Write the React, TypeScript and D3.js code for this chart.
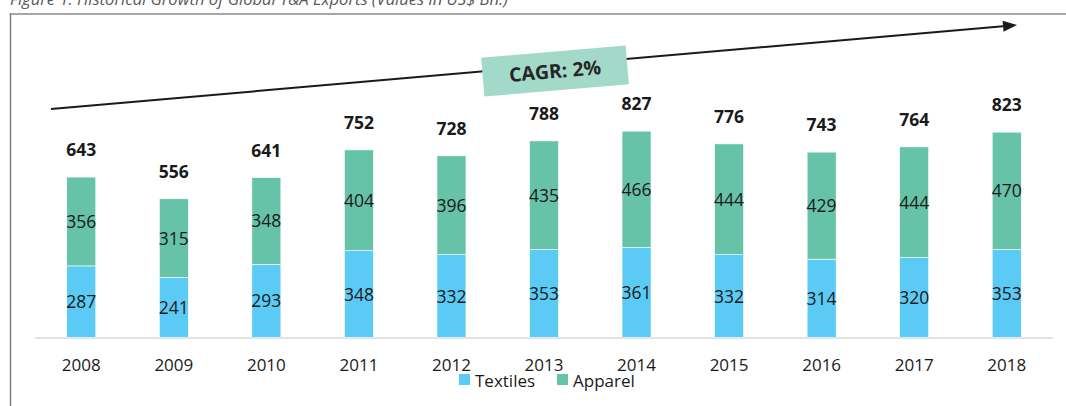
import * as React from "react";
import * as d3 from "d3";

const years = ["2008", "2009", "2010", "2011", "2012", "2013", "2014", "2015", "2016", "2017", "2018"];
const textiles = [287, 241, 293, 348, 332, 353, 361, 332, 314, 320, 353];
const apparel = [356, 315, 348, 404, 396, 435, 466, 444, 429, 444, 470];
const totals = [643, 556, 641, 752, 728, 788, 827, 776, 743, 764, 823];
const seriesNames = ["Textiles", "Apparel"];
const seriesColors = ["#5bcbf5", "#66c3a7"];

const W = 1066;
const H = 406;
const font = "'Open Sans', 'DejaVu Sans', sans-serif";

export default function App() {
  const ref = React.useRef<SVGSVGElement>(null);

  React.useEffect(() => {
    const svg = d3.select(ref.current);
    svg.selectAll("*").remove();

    const x = d3.scaleBand().domain(years).range([35, 1053]).padding(0);
    const y = d3.scaleLinear().domain([0, 1000]).range([337.5, 88]);
    const bw = 29;
    const cx = (yr: string) => (x(yr) as number) + x.bandwidth() / 2;

    // title, cut off at the top as in the source
    svg.append("text")
      .attr("x", 10).attr("y", 5)
      .attr("font-family", font).attr("font-style", "italic").attr("font-size", 17)
      .attr("fill", "#595959")
      .attr("textLength", 498).attr("lengthAdjust", "spacingAndGlyphs")
      .text("Figure 1: Historical Growth of Global T&A Exports (Values in US$ Bn.)");

    // frame
    svg.append("line").attr("x1", 10).attr("x2", W).attr("y1", 14).attr("y2", 14)
      .attr("stroke", "#a6a6a6").attr("stroke-width", 2);
    svg.append("line").attr("x1", 10.5).attr("x2", 10.5).attr("y1", 13).attr("y2", H)
      .attr("stroke", "#7f7f7f").attr("stroke-width", 1.5);

    // growth arrow
    const x0 = 51, y0 = 109, x1 = 1017, y1 = 25;
    const ang = Math.atan2(y1 - y0, x1 - x0);
    const L = 14, hw = 5.5;
    const bx = x1 - L * Math.cos(ang), by = y1 - L * Math.sin(ang);
    svg.append("line").attr("x1", x0).attr("y1", y0).attr("x2", bx).attr("y2", by)
      .attr("stroke", "#1a1a1a").attr("stroke-width", 2);
    svg.append("polygon")
      .attr("points", [
        [x1, y1],
        [bx + hw * Math.sin(ang), by - hw * Math.cos(ang)],
        [bx - hw * Math.sin(ang), by + hw * Math.cos(ang)],
      ].map(p => p.join(",")).join(" "))
      .attr("fill", "#1a1a1a");

    // CAGR box
    const g = svg.append("g").attr("transform", "translate(555,71) rotate(-4.9)");
    g.append("rect").attr("x", -72.5).attr("y", -19.5).attr("width", 145).attr("height", 39)
      .attr("fill", "#a2d9c9");
    g.append("text").attr("x", 0).attr("y", 7).attr("text-anchor", "middle")
      .attr("font-family", font).attr("font-weight", "bold").attr("font-size", 19.5)
      .attr("fill", "#262626").text("CAGR: 2%");

    // baseline
    svg.append("line").attr("x1", 35).attr("x2", 1053).attr("y1", 338).attr("y2", 338)
      .attr("stroke", "#d9d9d9").attr("stroke-width", 1.5);

    // stacked bars
    const stack = [textiles, apparel];
    years.forEach((yr, i) => {
      let base = 0;
      stack.forEach((vals, s) => {
        const v = vals[i];
        const top = y(base + v), bot = y(base);
        svg.append("rect")
          .attr("x", cx(yr) - bw / 2).attr("y", top)
          .attr("width", bw).attr("height", bot - top)
          .attr("fill", seriesColors[s])
          .attr("stroke", "#ffffff").attr("stroke-width", 0.6);
        svg.append("text")
          .attr("x", cx(yr)).attr("y", (top + bot) / 2 + 6.5)
          .attr("text-anchor", "middle")
          .attr("font-family", font).attr("font-size", 17.5).attr("fill", "#1a1a1a")
          .text(v);
        base += v;
      });
      svg.append("text")
        .attr("x", cx(yr)).attr("y", y(totals[i]) - 21)
        .attr("text-anchor", "middle")
        .attr("font-family", font).attr("font-weight", "bold").attr("font-size", 17.5)
        .attr("fill", "#1a1a1a").text(totals[i]);
    });

    // x axis labels
    const axis = svg.append("g").attr("transform", "translate(0,338)")
      .call(d3.axisBottom(x).tickSize(0).tickPadding(0));
    axis.select(".domain").remove();
    axis.selectAll("text")
      .attr("y", 33).attr("dy", null)
      .attr("font-family", font).attr("font-size", 17).attr("fill", "#1a1a1a");

    // legend
    const legendX = [459, 557];
    seriesNames.forEach((name, s) => {
      svg.append("rect").attr("x", legendX[s]).attr("y", 374)
        .attr("width", 11).attr("height", 11).attr("fill", seriesColors[s]);
      svg.append("text").attr("x", legendX[s] + 16).attr("y", 387)
        .attr("font-family", font).attr("font-size", 17).attr("fill", "#1a1a1a")
        .text(name);
    });
  }, []);

  return (
    <svg ref={ref} width={W} height={H}
      style={{ position: "absolute", left: 0, top: 0, background: "#fff" }} />
  );
}
